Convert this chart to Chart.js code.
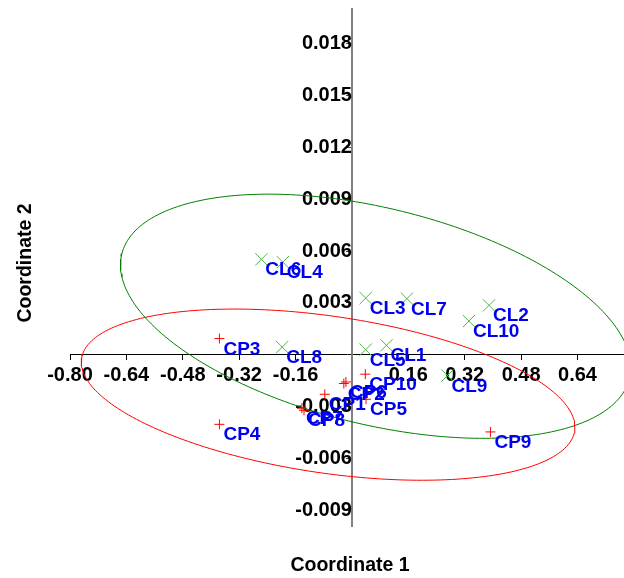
<!DOCTYPE html>
<html>
<head>
<meta charset="utf-8">
<script src="https://cdn.jsdelivr.net/npm/chart.js@4/dist/chart.umd.min.js"></script>
<style>
  html, body { margin: 0; padding: 0; background: #fff; }
  canvas { display: block; }
</style>
</head>
<body>
<canvas id="myChart" width="624" height="578"></canvas>
<script>
// CL group (green x)
var clLabels = ['CL1', 'CL2', 'CL3', 'CL4', 'CL5', 'CL6', 'CL7', 'CL8', 'CL9', 'CL10'];
var clX = [0.098, 0.389, 0.039, -0.196, 0.039, -0.257, 0.156, -0.198, 0.271, 0.332];
var clY = [0.00055, 0.00286, 0.00328, 0.00536, 0.00030, 0.00552, 0.00325, 0.00045, -0.00120, 0.00195];

// CP group (red +)
var cpLabels = ['CP1', 'CP2', 'CP3', 'CP4', 'CP5', 'CP6', 'CP7', 'CP8', 'CP9', 'CP10'];
var cpX = [-0.077, -0.023, -0.376, -0.376, 0.040, -0.017, -0.142, -0.136, 0.393, 0.038];
var cpY = [-0.00228, -0.00166, 0.00094, -0.00402, -0.00257, -0.00157, -0.00309, -0.00321, -0.00446, -0.00112];

var xTicks = [-0.80, -0.64, -0.48, -0.32, -0.16, 0.16, 0.32, 0.48, 0.64];
var yTicks = [-0.009, -0.006, -0.003, 0.003, 0.006, 0.009, 0.012, 0.015, 0.018];

var FONT = 'Liberation Sans, Arial, sans-serif';

function toPoints(xs, ys) {
  var out = [];
  for (var i = 0; i < xs.length; i++) out.push({x: xs[i], y: ys[i]});
  return out;
}

// 95% ellipse from the group covariance
function ellipse95(xs, ys) {
  var n = xs.length, mx = 0, my = 0;
  for (var i = 0; i < n; i++) { mx += xs[i]; my += ys[i]; }
  mx /= n; my /= n;
  var sxx = 0, syy = 0, sxy = 0;
  for (var i = 0; i < n; i++) {
    sxx += (xs[i] - mx) * (xs[i] - mx);
    syy += (ys[i] - my) * (ys[i] - my);
    sxy += (xs[i] - mx) * (ys[i] - my);
  }
  sxx /= n - 1; syy /= n - 1; sxy /= n - 1;
  var d = n - 2;
  var f = d / 2 * (Math.pow(0.05, -2 / d) - 1);
  var k = Math.sqrt(2 * (n - 1) / d * f);
  var l11 = Math.sqrt(sxx), l21 = sxy / l11, l22 = Math.sqrt(syy - l21 * l21);
  var pts = [];
  for (var j = 0; j <= 240; j++) {
    var t = j / 240 * 2 * Math.PI;
    pts.push({x: mx + k * l11 * Math.cos(t), y: my + k * (l21 * Math.cos(t) + l22 * Math.sin(t))});
  }
  return pts;
}

function noPadding(axis) {
  axis.paddingTop = 0; axis.paddingBottom = 0;
  axis.paddingLeft = 0; axis.paddingRight = 0;
}

var pointLabels = {
  id: 'pointLabels',
  afterDatasetsDraw: function(chart) {
    var ctx = chart.ctx;
    ctx.save();
    ctx.font = 'bold 19px ' + FONT;
    ctx.fillStyle = '#0000f0';
    ctx.textAlign = 'left';
    ctx.textBaseline = 'alphabetic';
    chart.data.datasets.forEach(function(ds, di) {
      if (!ds.names) return;
      var meta = chart.getDatasetMeta(di);
      meta.data.forEach(function(el, i) {
        ctx.fillText(ds.names[i], el.x + 4, el.y + 16);
      });
    });
    ctx.restore();
  },
  afterDraw: function(chart) {
    var ctx = chart.ctx;
    ctx.save();
    ctx.font = 'bold 19.5px ' + FONT;
    ctx.fillStyle = '#000';
    ctx.textAlign = 'center';
    ctx.textBaseline = 'middle';
    ctx.fillText('Coordinate 1', 350, 566);
    ctx.translate(26, 263);
    ctx.rotate(-Math.PI / 2);
    ctx.fillText('Coordinate 2', 0, 0);
    ctx.restore();
  }
};

var ctx = document.getElementById('myChart');
var myChart = new Chart(ctx, {
  type: 'scatter',
  data: {
    datasets: [{
      data: ellipse95(clX, clY),
      showLine: true,
      borderColor: '#008000',
      borderWidth: 1,
      pointRadius: 0,
      fill: false
    }, {
      data: ellipse95(cpX, cpY),
      showLine: true,
      borderColor: '#ff0000',
      borderWidth: 1,
      pointRadius: 0,
      fill: false
    }, {
      data: toPoints(clX, clY),
      names: clLabels,
      pointStyle: 'crossRot',
      pointRadius: 8.7,
      borderColor: 'rgb(80,180,80)',
      borderWidth: 1
    }, {
      data: toPoints(cpX, cpY),
      names: cpLabels,
      pointStyle: 'cross',
      pointRadius: 5,
      borderColor: '#ff0000',
      borderWidth: 1
    }]
  },
  options: {
    responsive: false,
    animation: false,
    layout: { autoPadding: false, padding: { left: 70, right: 0, top: 9, bottom: 52 } },
    plugins: { legend: { display: false }, tooltip: { enabled: false } },
    scales: {
      x: {
        type: 'linear',
        position: { y: 0 },
        min: -0.80,
        max: 0.772,
        z: 1,
        afterFit: noPadding,
        afterBuildTicks: function(axis) { axis.ticks = xTicks.map(function(v) { return {value: v}; }); },
        ticks: {
          autoSkip: false,
          maxRotation: 0,
          padding: 4,
          color: '#000',
          font: { family: FONT, size: 20, weight: 'bold' },
          callback: function(v) { return Number(v).toFixed(2); }
        },
        grid: { drawOnChartArea: false, drawTicks: true, tickLength: 5, color: '#000' },
        border: { display: true, color: '#000', width: 1 }
      },
      y: {
        type: 'linear',
        position: { x: 0 },
        min: -0.0099,
        max: 0.0200,
        z: 1,
        afterFit: noPadding,
        afterBuildTicks: function(axis) { axis.ticks = yTicks.map(function(v) { return {value: v}; }); },
        ticks: {
          autoSkip: false,
          padding: 1,
          color: '#000',
          font: { family: FONT, size: 20, weight: 'bold' },
          callback: function(v) { return Number(v).toFixed(3); }
        },
        grid: { drawOnChartArea: false, drawTicks: true, tickLength: 5, color: '#444' },
        border: { display: true, color: '#808080', width: 2 }
      }
    }
  },
  plugins: [pointLabels]
});
</script>
</body>
</html>
